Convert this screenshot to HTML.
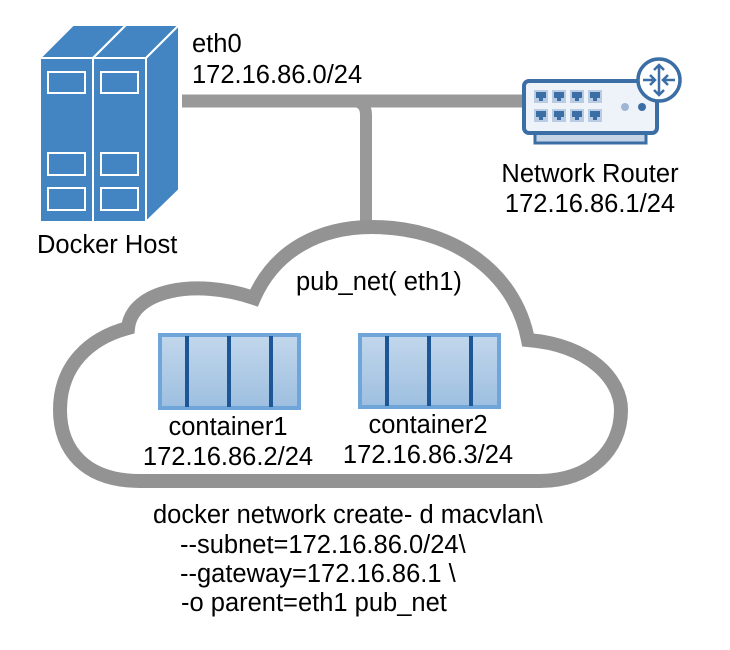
<!DOCTYPE html>
<html><head><meta charset="utf-8"><style>
html,body{margin:0;padding:0;background:#fff;width:730px;height:650px;overflow:hidden}
text{font-family:"Liberation Sans",Arial,sans-serif;font-size:25.5px;fill:#000}
</style></head><body>
<svg width="730" height="650" viewBox="0 0 730 650" xmlns="http://www.w3.org/2000/svg">
<defs>
<linearGradient id="cg" x1="0" y1="0" x2="0" y2="1"><stop offset="0" stop-color="#c2d7ec"/><stop offset="1" stop-color="#9dbfe0"/></linearGradient>
</defs>
<path d="M182 101 H523" stroke="#999" stroke-width="13" fill="none"/>
<path d="M352 101 Q366 101 366 115 V232" stroke="#999" stroke-width="12" fill="none"/>
<path d="M140 481 C85 481 60 450 60 410 C60 365 90 338 128 328 C132 290 195 278 254 298 C275 250 320 227 372 227 C450 227 515 270 528 340 C590 345 621 380 621 410 C621 450 590 481 540 481 Z" fill="#fff" stroke="#939393" stroke-width="14"/>
<g fill="#4285c2" stroke="#fff" stroke-width="2">
<polygon points="40,58 73,25 126,25 93,58"/>
<polygon points="93,58 126,25 179,25 146,58"/>
<polygon points="146,58 179,25 179,190 146,222"/>
<rect x="40" y="58" width="53" height="164"/>
<rect x="93" y="58" width="53" height="164"/>
<rect x="48" y="72" width="37" height="21"/><rect x="101" y="72" width="37" height="21"/>
<rect x="48" y="153" width="37" height="22"/><rect x="101" y="153" width="37" height="22"/>
<rect x="48" y="188" width="37" height="22"/><rect x="101" y="188" width="37" height="22"/>
</g>
<rect x="535" y="131" width="111" height="12" fill="#c4d3e6" stroke="#3b6ea5" stroke-width="3"/>
<rect x="524" y="81" width="133" height="52" rx="5" fill="#eef3f9" stroke="#3b6ea5" stroke-width="4"/>
<g fill="#b9cce3">
<rect x="534" y="90" width="14" height="13"/><rect x="552" y="90" width="14" height="13"/><rect x="570" y="90" width="14" height="13"/><rect x="588" y="90" width="14" height="13"/>
<rect x="534" y="109" width="14" height="13"/><rect x="552" y="109" width="14" height="13"/><rect x="570" y="109" width="14" height="13"/><rect x="588" y="109" width="14" height="13"/>
</g>
<g fill="#3b6ea5">
<rect x="536" y="92" width="10" height="6"/><rect x="554" y="92" width="10" height="6"/><rect x="572" y="92" width="10" height="6"/><rect x="590" y="92" width="10" height="6"/>
<rect x="536" y="111" width="10" height="6"/><rect x="554" y="111" width="10" height="6"/><rect x="572" y="111" width="10" height="6"/><rect x="590" y="111" width="10" height="6"/>
<rect x="539" y="98" width="4" height="3"/><rect x="557" y="98" width="4" height="3"/><rect x="575" y="98" width="4" height="3"/><rect x="593" y="98" width="4" height="3"/>
<rect x="539" y="117" width="4" height="3"/><rect x="557" y="117" width="4" height="3"/><rect x="575" y="117" width="4" height="3"/><rect x="593" y="117" width="4" height="3"/>
</g>
<circle cx="625" cy="107" r="4" fill="#9fb6d3"/><circle cx="642" cy="107" r="4" fill="#3b6ea5"/>
<circle cx="659" cy="80" r="21" fill="#fff" stroke="#3b6ea5" stroke-width="3.5"/>
<g stroke="#3b6ea5" stroke-width="2.5" fill="none">
<path d="M659 65 V95 M654 70 L659 65 L664 70 M654 90 L659 95 L664 90"/>
<path d="M643 80 H655 M650 75 L655 80 L650 85 M675 80 H663 M668 75 L663 80 L668 85"/>
</g>
<rect x="160" y="335" width="139" height="73" fill="url(#cg)" stroke="#6fa5d8" stroke-width="4"/>
<g stroke="#1c5696" stroke-width="4"><line x1="187" y1="336" x2="187" y2="407"/><line x1="229" y1="336" x2="229" y2="407"/><line x1="271" y1="336" x2="271" y2="407"/></g>
<rect x="360" y="335" width="139" height="72" fill="url(#cg)" stroke="#6fa5d8" stroke-width="4"/>
<g stroke="#1c5696" stroke-width="4"><line x1="387" y1="336" x2="387" y2="406"/><line x1="429" y1="336" x2="429" y2="406"/><line x1="471" y1="336" x2="471" y2="406"/></g>
<text x="192" y="52">eth0</text>
<text x="192" y="83">172.16.86.0/24</text>
<text x="37" y="253">Docker Host</text>
<text x="590" y="182" text-anchor="middle">Network Router</text>
<text x="590" y="212" text-anchor="middle">172.16.86.1/24</text>
<text x="296" y="290">pub_net( eth1)</text>
<text x="228" y="435" text-anchor="middle">container1</text>
<text x="228" y="465" text-anchor="middle">172.16.86.2/24</text>
<text x="428" y="433" text-anchor="middle">container2</text>
<text x="428" y="463" text-anchor="middle">172.16.86.3/24</text>
<text x="153" y="523">docker network create- d macvlan\</text>
<text x="180" y="553">--subnet=172.16.86.0/24\</text>
<text x="180" y="582">--gateway=172.16.86.1 \</text>
<text x="181" y="611">-o parent=eth1 pub_net</text>
</svg>
</body></html>
